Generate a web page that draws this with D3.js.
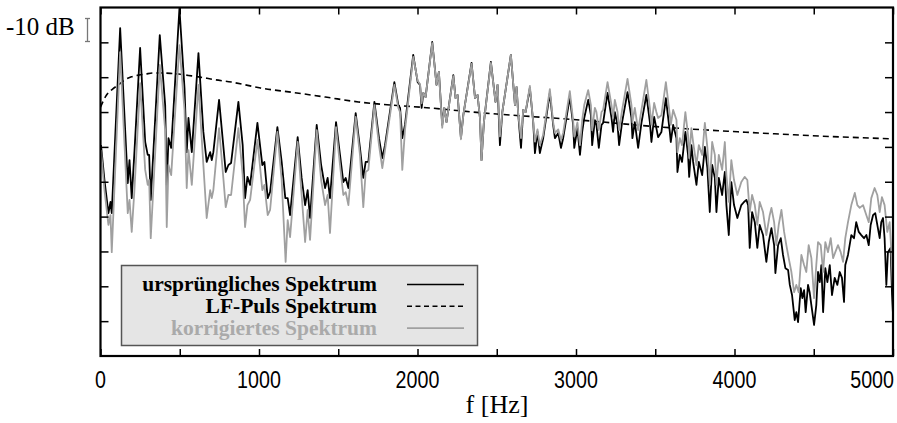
<!DOCTYPE html>
<html>
<head>
<meta charset="utf-8">
<script src="https://cdn.jsdelivr.net/npm/d3@7"></script>
<style>
  body { margin: 0; background: #fff; }
  svg { display: block; }
  .serif { font-family: "Liberation Serif", "Times New Roman", Times, serif; }
  .sans { font-family: "Liberation Sans", Arial, Helvetica, sans-serif; }
</style>
</head>
<body>
<div id="chart"></div>
<script>
// Frequenzen in Hz, Pegel in dB (0 = oberer Rand)
var origHz = [3,25,50,63,71,124,172,183,197,214,250,282,298,307,317,374,408,418,429,446,498,530,544,555,576,618,649,670,692,702,712,748,776,790,807,824,870,897,912,927,944,990,1021,1034,1055,1070,1116,1143,1166,1181,1196,1244,1269,1291,1307,1322,1364,1392,1417,1433,1448,1486,1511,1532,1547,1564,1610,1637,1658,1673,1690,1728,1757,1778,1795,1854,1879,1890,1904,1921,1973,2001,2016,2026,2037,2051,2093,2120,2135,2156,2169,2183,2226,2240,2253,2274,2289,2341,2363,2379,2394,2404,2419,2463,2492,2505,2520,2535,2589,2615,2625,2636,2653,2667,2682,2709,2730,2741,2757,2772,2793,2835,2856,2867,2888,2905,2919,2961,2982,2989,3009,3025,3039,3052,3077,3094,3102,3119,3129,3144,3161,3171,3199,3224,3234,3245,3262,3272,3291,3325,3350,3356,3371,3392,3413,3444,3466,3476,3493,3507,3518,3539,3567,3592,3598,3613,3634,3640,3655,3669,3690,3707,3714,3728,3739,3760,3775,3796,3813,3829,3844,3859,3876,3886,3901,3922,3939,3949,3964,3980,3997,4018,4043,4060,4075,4086,4096,4111,4128,4144,4159,4180,4201,4216,4233,4250,4258,4275,4292,4306,4321,4338,4349,4363,4380,4390,4401,4418,4428,4439,4449,4464,4474,4485,4502,4516,4527,4538,4548,4559,4573,4586,4601,4615,4632,4649,4664,4678,4691,4699,4716,4737,4754,4768,4784,4800,4817,4832,4847,4859,4874,4888,4901,4916,4926,4937,4947,4958,4968,4985,4994,5000];
var origDb = [-39.5,-49.5,-59.0,-55.8,-59.0,-5.9,-50.4,-43.8,-54.7,-41.5,-11.6,-38.6,-42.3,-42.3,-55.2,-7.9,-28.0,-50.9,-37.5,-40.3,-0.3,-23.1,-41.5,-31.7,-41.5,-13.1,-35.7,-44.3,-41.5,-43.8,-41.5,-26.5,-40.3,-47.2,-45.2,-44.6,-27.1,-39.5,-54.7,-48.6,-50.9,-33.1,-45.2,-44.3,-54.7,-53.0,-34.3,-44.3,-54.7,-54.7,-59.6,-37.2,-48.9,-56.7,-52.4,-60.4,-33.7,-45.2,-51.8,-48.9,-54.7,-32.9,-42.3,-50.1,-48.9,-51.8,-30.3,-40.3,-48.9,-44.3,-44.3,-27.1,-37.5,-43.2,-39.5,-21.4,-28.0,-28.8,-37.5,-33.7,-13.6,-21.4,-22.2,-28.8,-24.5,-25.7,-9.9,-22.2,-18.5,-33.7,-28.8,-32.9,-19.4,-26.0,-25.1,-37.5,-30.9,-15.9,-26.0,-25.1,-31.7,-43.8,-32.9,-15.6,-27.1,-22.2,-39.5,-30.0,-13.6,-28.0,-22.8,-30.9,-40.3,-29.4,-30.0,-23.1,-32.9,-41.8,-35.7,-41.8,-37.5,-24.5,-33.7,-37.5,-36.0,-40.3,-37.5,-25.7,-33.7,-40.3,-34.6,-42.3,-35.7,-31.7,-26.5,-30.9,-39.5,-32.3,-33.7,-40.3,-33.7,-33.1,-24.5,-31.7,-35.7,-30.0,-33.7,-39.5,-32.9,-24.3,-31.7,-37.5,-32.9,-40.3,-33.1,-25.1,-32.9,-38.6,-31.4,-34.6,-37.2,-35.7,-26.0,-35.7,-38.6,-33.7,-37.5,-47.2,-42.3,-44.3,-35.7,-42.3,-48.6,-39.5,-44.3,-50.9,-44.3,-48.1,-40.0,-46.1,-58.7,-45.2,-48.9,-58.7,-48.9,-53.8,-47.2,-56.7,-65.3,-50.1,-56.7,-60.4,-56.7,-55.8,-55.2,-56.7,-69.0,-58.7,-61.6,-69.0,-62.4,-65.3,-73.0,-67.3,-63.3,-68.2,-76.2,-68.2,-66.2,-71.0,-74.8,-75.3,-79.6,-82.5,-89.7,-87.4,-90.3,-80.5,-83.4,-81.1,-87.4,-79.6,-81.7,-85.4,-91.1,-85.4,-75.9,-78.8,-73.9,-87.4,-74.8,-78.8,-73.9,-82.5,-77.6,-79.6,-75.9,-77.6,-84.5,-73.9,-71.0,-65.3,-66.2,-61.6,-64.4,-65.3,-66.2,-65.3,-68.2,-62.4,-59.6,-59.0,-62.4,-66.2,-61.6,-60.4,-66.2,-79.6,-70.2,-69.0,-82.5,-88.0];

var lfHz = [0,38,76,113,151,195,240,284,334,385,441,492,555,618,719,826,914,1009,1204,1419,1627,1835,2018,2427,3026,3537,4035,4546,5000];
var lfDb = [-28.6,-25.1,-23.4,-22.2,-20.8,-19.9,-19.4,-19.1,-18.8,-18.8,-18.9,-19.1,-19.5,-19.9,-20.7,-21.4,-22.2,-23.1,-24.3,-25.7,-27.1,-28.0,-28.6,-30.3,-32.3,-34.3,-35.7,-36.9,-37.7];

var korrHz = [3,25,50,63,71,124,172,183,197,214,250,282,298,307,317,374,408,418,429,446,498,530,544,555,576,618,649,670,692,702,712,748,776,790,807,824,870,897,912,927,944,990,1021,1034,1055,1070,1116,1143,1168,1181,1196,1244,1269,1291,1307,1322,1364,1392,1417,1433,1448,1486,1511,1532,1547,1564,1610,1637,1658,1673,1690,1728,1757,1778,1795,1854,1879,1890,1904,1921,1973,2001,2016,2026,2037,2051,2093,2120,2135,2156,2169,2183,2226,2240,2253,2274,2289,2341,2363,2379,2394,2404,2419,2463,2492,2505,2520,2535,2589,2615,2625,2636,2653,2667,2682,2709,2730,2741,2757,2772,2793,2835,2856,2867,2888,2905,2919,2961,2982,2989,3009,3025,3039,3052,3077,3094,3102,3119,3129,3144,3161,3171,3199,3224,3234,3245,3262,3272,3291,3325,3350,3356,3371,3392,3413,3444,3466,3476,3493,3507,3518,3539,3567,3592,3598,3613,3634,3640,3655,3669,3690,3707,3714,3728,3739,3760,3775,3796,3813,3829,3844,3859,3876,3886,3901,3922,3939,3949,3964,3980,3997,4018,4043,4064,4081,4096,4111,4128,4144,4159,4180,4201,4222,4233,4250,4264,4279,4296,4313,4327,4342,4359,4376,4390,4405,4422,4439,4453,4468,4485,4502,4516,4527,4544,4559,4573,4590,4607,4622,4636,4653,4670,4685,4699,4716,4737,4759,4775,4790,4811,4832,4847,4863,4884,4901,4916,4930,4947,4964,4979,4989,5000];
var korrDb = [-40.9,-52.4,-62.4,-59.6,-70.2,-12.8,-59.0,-55.2,-64.4,-52.4,-21.7,-46.6,-50.9,-49.5,-66.2,-16.5,-35.2,-63.0,-45.2,-48.1,-10.8,-29.4,-51.8,-40.9,-50.9,-22.2,-45.2,-60.4,-52.4,-54.7,-52.4,-34.6,-49.5,-57.3,-53.8,-53.8,-34.6,-48.1,-63.0,-56.7,-55.2,-38.0,-52.4,-50.9,-59.6,-58.1,-35.7,-49.5,-73.0,-61.0,-65.9,-38.6,-53.8,-67.3,-58.1,-66.7,-35.2,-49.5,-56.7,-53.8,-64.7,-34.3,-45.2,-53.8,-53.0,-56.7,-31.4,-42.3,-57.3,-47.2,-46.6,-28.0,-39.5,-46.1,-40.9,-22.2,-28.8,-30.0,-46.6,-35.2,-14.2,-21.0,-22.0,-27.5,-24.5,-25.7,-10.2,-22.2,-18.5,-34.5,-28.8,-32.9,-19.7,-26.0,-25.1,-37.8,-30.9,-16.2,-26.0,-25.1,-31.7,-43.8,-32.9,-15.9,-27.1,-22.2,-37.0,-30.0,-13.6,-28.0,-22.8,-30.9,-37.5,-29.4,-30.0,-22.5,-32.9,-38.5,-35.0,-39.5,-36.5,-23.4,-33.0,-36.0,-35.0,-38.0,-36.0,-24.0,-32.5,-37.0,-33.0,-39.5,-32.3,-28.0,-23.7,-28.0,-35.2,-28.8,-30.0,-35.2,-30.0,-29.4,-21.4,-28.0,-31.7,-26.5,-30.0,-35.2,-29.4,-20.5,-28.0,-32.9,-28.8,-35.2,-29.4,-20.8,-28.8,-33.7,-27.4,-30.0,-31.7,-30.9,-21.4,-30.9,-33.7,-29.4,-32.3,-41.5,-37.5,-39.5,-30.0,-36.6,-43.2,-34.6,-38.6,-45.2,-39.5,-42.3,-33.1,-40.3,-50.9,-38.6,-42.3,-50.9,-42.3,-46.6,-38.6,-48.1,-55.8,-43.8,-49.5,-53.8,-50.1,-48.6,-49.5,-58.7,-53.8,-56.7,-62.4,-55.8,-58.7,-65.3,-59.6,-57.5,-61.6,-68.2,-62.4,-58.1,-64.4,-68.2,-71.9,-75.9,-81.7,-79.6,-81.7,-71.0,-73.9,-75.9,-68.2,-71.9,-83.4,-73.9,-67.3,-68.2,-75.9,-67.3,-70.2,-66.2,-71.9,-70.2,-68.2,-70.2,-73.0,-66.2,-61.6,-56.7,-53.2,-56.7,-57.5,-56.7,-59.6,-61.6,-54.7,-51.8,-53.8,-58.7,-54.4,-56.7,-64.4,-61.6,-69.6,-81.7];

var xTicks = [0,500,1000,1500,2000,2500,3000,3500,4000,4500,5000];
var xLabels = [0,1000,2000,3000,4000,5000];
var yTicks = [-90,-80,-70,-60,-50,-40,-30,-20,-10];
var legendNames = ["ursprüngliches Spektrum", "LF-Puls Spektrum", "korrigiertes Spektrum"];

var width = 897, height = 423;
var grau = "#a0a0a0";

var svg = d3.select("#chart").append("svg")
  .attr("width", width)
  .attr("height", height);

var x = d3.scaleLinear().domain([0, 5000]).range([100.5, 893]);
var y = d3.scaleLinear().domain([-100, 0]).range([356, 7.5]);

svg.append("clipPath").attr("id", "clip")
  .append("rect")
    .attr("x", x(0)).attr("y", y(0))
    .attr("width", x(5000) - x(0)).attr("height", y(-100) - y(0));

function zip(hz, db) {
  return hz.map(function(f, i) { return [f, db[i]]; });
}

var line = d3.line()
  .x(d => x(d[0]))
  .y(d => y(d[1]));

var lfLine = d3.line()
  .x(d => x(d[0]))
  .y(d => y(d[1]))
  .curve(d3.curveMonotoneX);

var plot = svg.append("g").attr("clip-path", "url(#clip)");

plot.append("path")
  .datum(zip(origHz, origDb))
  .attr("d", line)
  .attr("fill", "none")
  .attr("stroke", "#000")
  .attr("stroke-width", 1.8)
  .attr("stroke-linejoin", "round");

plot.append("path")
  .datum(zip(lfHz, lfDb))
  .attr("d", lfLine)
  .attr("fill", "none")
  .attr("stroke", "#000")
  .attr("stroke-width", 1.6)
  .attr("stroke-dasharray", "6,4");

plot.append("path")
  .datum(zip(korrHz, korrDb))
  .attr("d", line)
  .attr("fill", "none")
  .attr("stroke", grau)
  .attr("stroke-width", 1.8)
  .attr("stroke-linejoin", "round");

// Achsen: Ticks nach innen, wie bei gnuplot
var axUnten = svg.append("g").attr("transform", "translate(0," + y(-100) + ")")
  .call(d3.axisBottom(x).tickValues(xTicks).tickSize(-7).tickFormat(""));
var axOben = svg.append("g").attr("transform", "translate(0," + y(0) + ")")
  .call(d3.axisTop(x).tickValues(xTicks).tickSize(-7).tickFormat(""));
var axLinks = svg.append("g").attr("transform", "translate(" + x(0) + ",0)")
  .call(d3.axisLeft(y).tickValues(yTicks).tickSize(-8).tickFormat(""));
var axRechts = svg.append("g").attr("transform", "translate(" + x(5000) + ",0)")
  .call(d3.axisRight(y).tickValues(yTicks).tickSize(-8).tickFormat(""));

[axUnten, axOben, axLinks, axRechts].forEach(function(g) {
  g.select(".domain").remove();
  g.selectAll(".tick line").attr("stroke", "#000").attr("stroke-width", 1.5);
});

svg.append("rect")
  .attr("x", x(0)).attr("y", y(0))
  .attr("width", x(5000) - x(0)).attr("height", y(-100) - y(0))
  .attr("fill", "none")
  .attr("stroke", "#000")
  .attr("stroke-width", 2.2);

// Beschriftung x-Achse (schmale Ziffern)
svg.selectAll(".xlab")
  .data(xLabels)
  .enter().append("text")
    .attr("class", "xlab sans")
    .attr("transform", d => "translate(" + (d == 5000 ? 894 : x(d)) + ",388) scale(0.82,1)")
    .attr("text-anchor", d => d == 5000 ? "end" : "middle")
    .attr("font-size", "24px")
    .text(d => d);

svg.append("text")
  .attr("class", "serif")
  .attr("x", 497)
  .attr("y", 413)
  .attr("text-anchor", "middle")
  .attr("font-size", "26px")
  .text("f [Hz]");

// Massstab oben links
svg.append("text")
  .attr("class", "serif")
  .attr("x", 6)
  .attr("y", 35)
  .attr("font-size", "25px")
  .text("-10 dB");

var skala = svg.append("g").attr("stroke", "#777").attr("stroke-width", 1.3);
skala.append("line").attr("x1", 87.5).attr("x2", 87.5).attr("y1", 18).attr("y2", 42);
skala.append("line").attr("x1", 85).attr("x2", 90).attr("y1", 18.5).attr("y2", 18.5);
skala.append("line").attr("x1", 85).attr("x2", 90).attr("y1", 41.5).attr("y2", 41.5);

// Legende
var legend = svg.append("g");
legend.append("rect")
  .attr("x", 121.5).attr("y", 265.5)
  .attr("width", 356).attr("height", 80)
  .attr("fill", "#e5e5e5")
  .attr("stroke", "#555")
  .attr("stroke-width", 1.5);

var legendStyles = [
  { color: "#000", dash: null, text: "#000" },
  { color: "#000", dash: "5,3.5", text: "#000" },
  { color: grau, dash: null, text: "#aaa" }
];

legendNames.forEach(function(name, i) {
  var yy = 291 + i * 21.8;
  legend.append("text")
    .attr("class", "serif")
    .attr("x", 377)
    .attr("y", yy)
    .attr("text-anchor", "end")
    .attr("font-weight", "bold")
    .attr("font-size", "21.5px")
    .attr("fill", legendStyles[i].text)
    .text(name);
  legend.append("line")
    .attr("x1", 407).attr("x2", 464)
    .attr("y1", yy - 6.5).attr("y2", yy - 6.5)
    .attr("stroke", legendStyles[i].color)
    .attr("stroke-width", 1.6)
    .attr("stroke-dasharray", legendStyles[i].dash);
});
</script>
</body>
</html>
